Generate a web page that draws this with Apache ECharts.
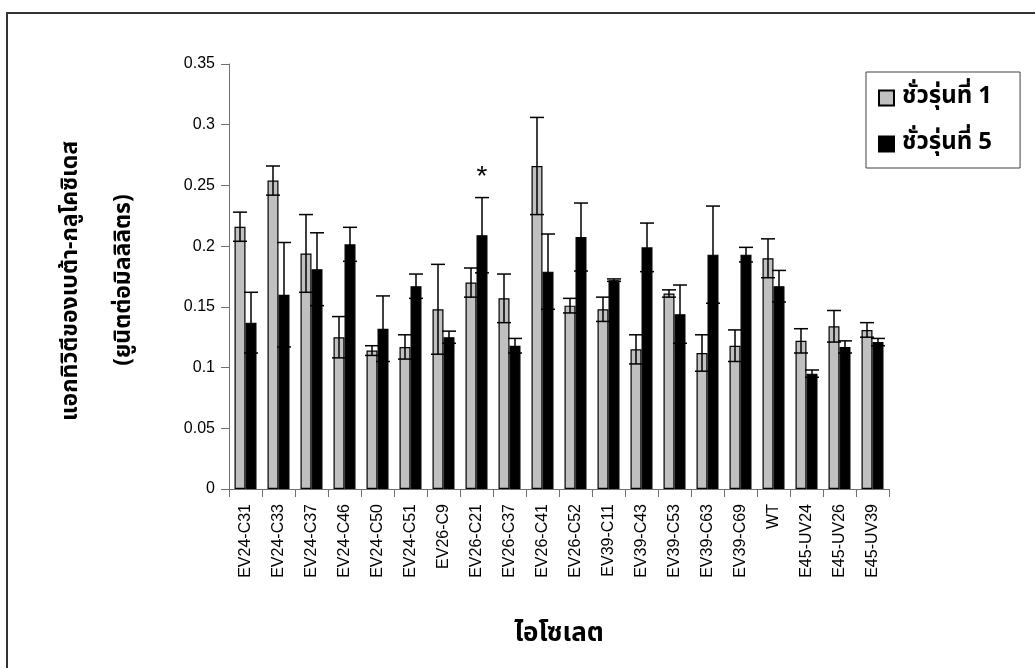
<!DOCTYPE html>
<html>
<head>
<meta charset="utf-8">
<title>แอกทิวิตีของเบต้า-กลูโคซิเดส</title>
<script src="https://cdn.jsdelivr.net/npm/echarts@6/dist/echarts.min.js"></script>
<style>
  html, body { margin: 0; padding: 0; background: #ffffff; }
  #chart { width: 1035px; height: 668px; }
</style>
</head>
<body>
<div id="chart"></div>
<script>
// Isolates on the category axis
const categories = [
  'EV24-C31', 'EV24-C33', 'EV24-C37', 'EV24-C46', 'EV24-C50', 'EV24-C51',
  'EV26-C9', 'EV26-C21', 'EV26-C37', 'EV26-C41', 'EV26-C52',
  'EV39-C11', 'EV39-C43', 'EV39-C53', 'EV39-C63', 'EV39-C69',
  'WT', 'E45-UV24', 'E45-UV26', 'E45-UV39'
];

// Series names
const seriesNames = ['ชั่วรุ่นที่ 1', 'ชั่วรุ่นที่ 5'];

// Mean activity (U/ml), generation 1
const gen1Mean = [0.216, 0.254, 0.194, 0.125, 0.114, 0.117, 0.148, 0.170, 0.157, 0.266,
                  0.151, 0.148, 0.115, 0.161, 0.112, 0.118, 0.190, 0.122, 0.134, 0.131];
// Standard deviation, generation 1
const gen1Err = [0.012, 0.012, 0.032, 0.017, 0.004, 0.010, 0.037, 0.012, 0.020, 0.040,
                 0.006, 0.010, 0.012, 0.003, 0.015, 0.013, 0.016, 0.010, 0.013, 0.006];

// Mean activity (U/ml), generation 5
const gen5Mean = [0.137, 0.160, 0.181, 0.2015, 0.132, 0.167, 0.125, 0.209, 0.118, 0.179,
                  0.2075, 0.172, 0.199, 0.144, 0.193, 0.193, 0.167, 0.095, 0.117, 0.121];
// Standard deviation, generation 5
const gen5Err = [0.025, 0.043, 0.030, 0.014, 0.027, 0.010, 0.005, 0.031, 0.006, 0.031,
                 0.028, 0.001, 0.020, 0.024, 0.040, 0.006, 0.013, 0.003, 0.005, 0.003];

// Isolates marked as significantly different in generation 5
const significantGen5 = ['EV26-C21'];

// Y-axis range and step
const yMin = 0;
const yMax = 0.35;
const yStep = 0.05;

const BAR_WIDTH = 11;
const CAP_WIDTH = 14;
const THAI_FONT = "'Noto Sans Thai', 'Tahoma', 'Loma', 'Garuda', 'DejaVu Sans', sans-serif";
const LATIN_FONT = "'Liberation Sans', Arial, 'DejaVu Sans', sans-serif";

function errorData(means, errs, marks) {
  return means.map((m, i) => [i, m - errs[i], m + errs[i], marks.indexOf(categories[i]) >= 0 ? 1 : 0]);
}

function makeErrorRenderer(side) {
  // side: -1 for the left bar of a group, +1 for the right bar
  return function (params, api) {
    const idx = api.value(0);
    const lo = api.coord([idx, api.value(1)]);
    const hi = api.coord([idx, api.value(2)]);
    const x = lo[0] + side * BAR_WIDTH / 2;
    const half = CAP_WIDTH / 2;
    const style = { stroke: '#000', lineWidth: 1.5 };
    const children = [
      { type: 'line', shape: { x1: x, y1: lo[1], x2: x, y2: hi[1] }, style: style },
      { type: 'line', shape: { x1: x - half, y1: hi[1], x2: x + half, y2: hi[1] }, style: style },
      { type: 'line', shape: { x1: x - half, y1: lo[1], x2: x + half, y2: lo[1] }, style: style }
    ];
    if (api.value(3) === 1) {
      children.push({
        type: 'text',
        style: {
          text: '*', x: x, y: hi[1] - 6,
          align: 'center', verticalAlign: 'bottom',
          font: '28px ' + LATIN_FONT, fill: '#000'
        }
      });
    }
    return { type: 'group', children: children };
  };
}

const chart = echarts.init(document.getElementById('chart'), null, { renderer: 'canvas' });

chart.setOption({
  backgroundColor: '#ffffff',
  animation: false,
  grid: { left: 229, right: 146, top: 64, bottom: 179, containLabel: false },
  legend: {
    data: seriesNames,
    orient: 'vertical',
    left: 866,
    top: 72,
    padding: [14, 28, 12, 12],
    itemGap: 22,
    itemWidth: 15,
    itemHeight: 15,
    icon: 'rect',
    borderColor: '#404040',
    borderWidth: 1,
    backgroundColor: '#ffffff',
    textStyle: { fontFamily: THAI_FONT, fontSize: 24, fontWeight: 'bold', color: '#000', padding: [0, 0, 0, 3] }
  },
  xAxis: {
    type: 'category',
    data: categories,
    boundaryGap: true,
    name: 'ไอโซเลต',
    nameLocation: 'middle',
    nameGap: 134,
    nameTextStyle: { fontFamily: THAI_FONT, fontSize: 26, fontWeight: 'bold', color: '#000' },
    axisLine: { lineStyle: { color: '#707070', width: 1 } },
    axisTick: { show: true, length: 8, lineStyle: { color: '#707070' } },
    axisLabel: {
      rotate: 90, interval: 0, margin: 15,
      fontFamily: LATIN_FONT, fontSize: 16, color: '#000'
    },
    splitLine: { show: false }
  },
  yAxis: {
    type: 'value',
    min: yMin,
    max: yMax,
    interval: yStep,
    axisLine: { show: true, lineStyle: { color: '#707070', width: 1 } },
    axisTick: { show: true, length: 8, lineStyle: { color: '#707070' } },
    axisLabel: { margin: 14, fontFamily: LATIN_FONT, fontSize: 16, color: '#000' },
    splitLine: { show: false }
  },
  graphic: [
    {
      type: 'rect', silent: true, z: -1,
      shape: { x: 7, y: 13, width: 1100, height: 720 },
      style: { fill: 'none', stroke: '#333333', lineWidth: 2 }
    },
    {
      type: 'text', x: 72, y: 281, rotation: Math.PI / 2,
      style: {
        text: 'แอกทิวิตีของเบต้า-กลูโคซิเดส',
        align: 'center', verticalAlign: 'middle',
        font: 'bold 23px ' + THAI_FONT, fill: '#000'
      }
    },
    {
      type: 'text', x: 125, y: 280, rotation: Math.PI / 2,
      style: {
        text: '(ยูนิตต่อมิลลิลิตร)',
        align: 'center', verticalAlign: 'middle',
        font: 'bold 23px ' + THAI_FONT, fill: '#000'
      }
    }
  ],
  series: [
    {
      name: seriesNames[0],
      type: 'bar',
      data: gen1Mean,
      barWidth: BAR_WIDTH,
      barGap: '0%',
      itemStyle: { color: '#c0c0c0', borderColor: '#000', borderWidth: 1.2 }
    },
    {
      name: seriesNames[1],
      type: 'bar',
      data: gen5Mean,
      barWidth: BAR_WIDTH,
      barGap: '0%',
      itemStyle: { color: '#000000', borderColor: '#000', borderWidth: 1.2 }
    },
    {
      name: seriesNames[0] + ' SD',
      type: 'custom',
      renderItem: makeErrorRenderer(-1),
      data: errorData(gen1Mean, gen1Err, []),
      encode: { x: 0, y: [1, 2] },
      z: 5
    },
    {
      name: seriesNames[1] + ' SD',
      type: 'custom',
      renderItem: makeErrorRenderer(1),
      data: errorData(gen5Mean, gen5Err, significantGen5),
      encode: { x: 0, y: [1, 2] },
      z: 5
    }
  ]
});
</script>
</body>
</html>
